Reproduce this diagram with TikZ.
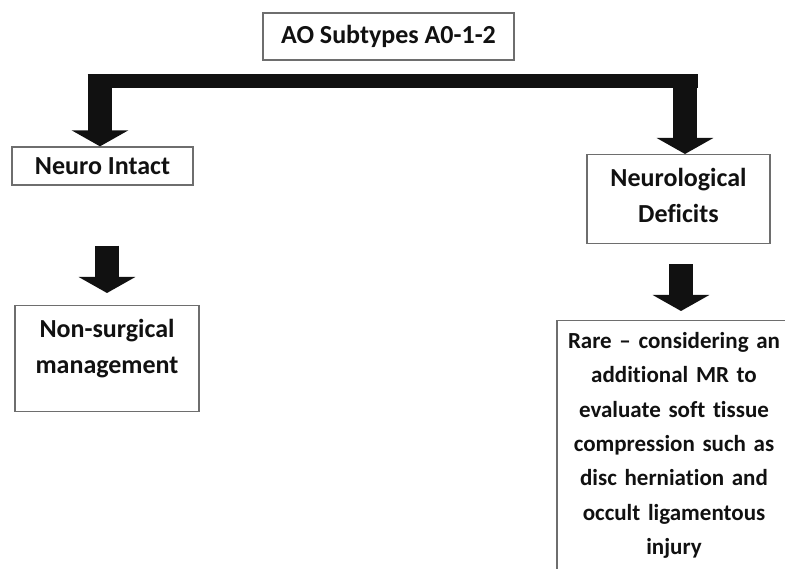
\documentclass[tikz,border=0pt]{standalone}
\usepackage{fontspec}
\setmainfont{Carlito}[Ligatures={TeX,NoCommon}]
\usepackage{tikz}
\usetikzlibrary{arrows.meta,positioning,calc}
\usepackage{xcolor}
\definecolor{Ink}{HTML}{111111}
\definecolor{Edge}{HTML}{6E6E6E}
\tikzset{
 box/.style={draw=Edge, line width=1.3pt, fill=white, align=center, text=Ink, inner sep=4pt},
 fatarrow/.style={-{Triangle[width=56pt,length=16pt]}, line width=24pt, draw=Ink},
 barline/.style={line width=14.5pt, draw=Ink}
}

\begin{document}
\begin{tikzpicture}[x=1pt,y=-1pt,font=\fontsize{26}{36}\selectfont\bfseries]
\useasboundingbox (0,0) rectangle (785,569);
\clip (0,0) rectangle (785,569);
\node[box, minimum width=251pt, minimum height=47pt] (ao) at (388.5,36.5) {AO Subtypes A0-1-2};
\node[box, minimum width=181pt, minimum height=38pt] (ni) at (102.5,166) {Neuro Intact};
\node[box, anchor=north, text width=175pt, minimum width=183pt, inner ysep=15pt,
      text height=17pt, text depth=42pt] (ndef) at (678.5,154) {Neurological\\Deficits};
\node[box, anchor=north, text width=176pt, minimum width=184pt, inner ysep=15pt,
      text height=17pt, text depth=59pt] (nsm) at (107,305) {Non-surgical\\management};
\node[box, anchor=north, text width=226pt, minimum width=232pt, inner ysep=11pt,
      text height=17pt, text depth=300pt, font=\fontsize{23}{34.3}\selectfont\bfseries] (rare) at (674,320)
  {Rare -- considering an\\additional MR to\\evaluate soft tissue\\compression such as\\disc herniation and\\occult ligamentous\\injury};
% bracket under the top box
\coordinate (barL) at (100,74);
\coordinate (barR) at (685,74);
\draw[barline] ($(barL)+(-12.5,7.25)$) -- ($(barR)+(12.5,7.25)$);
\draw[fatarrow] (barL) -- (barL |- ni.north);
\draw[fatarrow] (barR) -- (barR |- ndef.north);
% next steps
\draw[fatarrow, shorten <=60pt, shorten >=12pt] (nsm.north |- ni.south) -- (nsm.north);
\draw[fatarrow, shorten <=20pt, shorten >=9pt] ([xshift=2.5pt]ndef.south) -- ([xshift=2.5pt]ndef.south |- rare.north);
\end{tikzpicture}
\end{document}
